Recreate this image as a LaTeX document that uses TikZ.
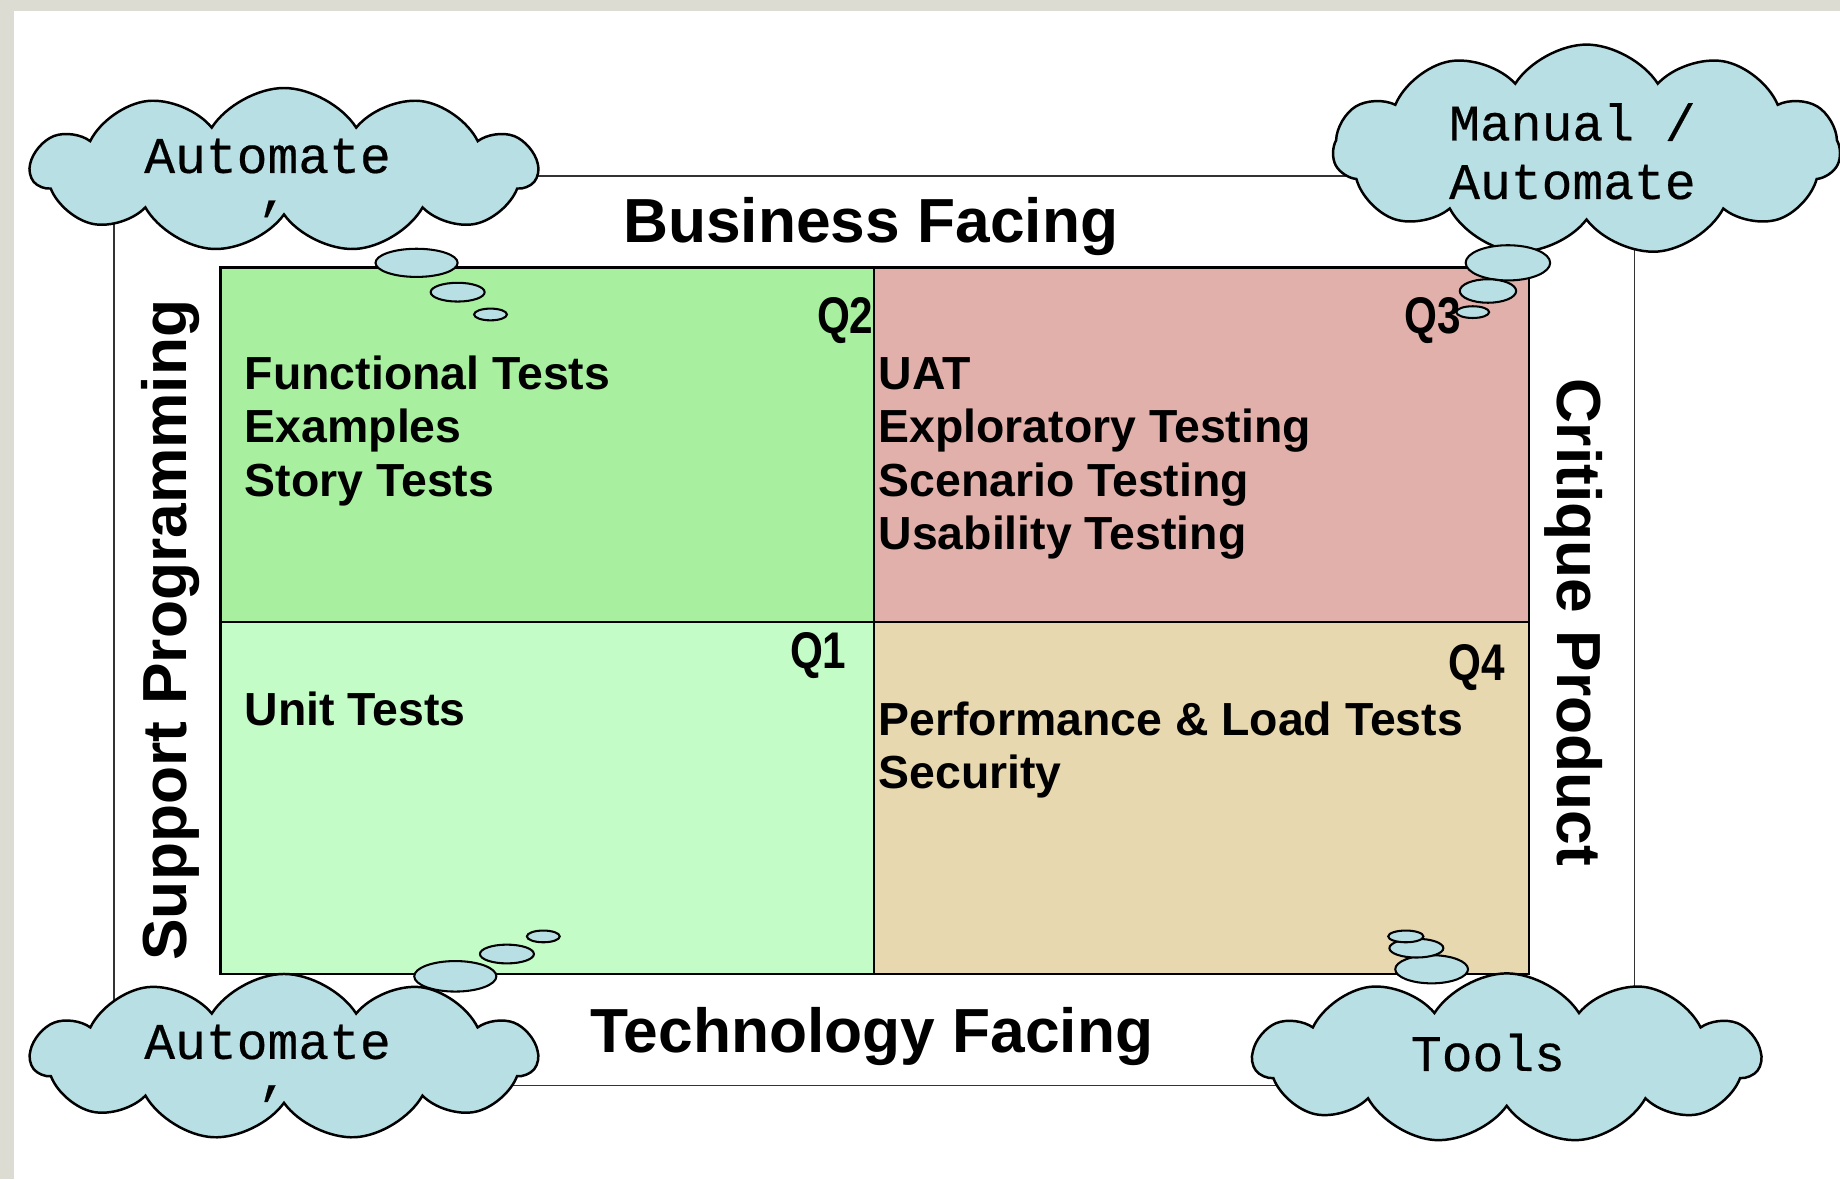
\documentclass[tikz,border=0pt]{standalone}
\usepackage{fontspec}
\setmainfont{Liberation Sans}
\newfontfamily\cloudfont[FakeBold=0.4]{Liberation Mono}
\usetikzlibrary{shapes.symbols}
\definecolor{bggrey}{RGB}{221,220,211}
\definecolor{cloudblue}{RGB}{184,223,227}
\definecolor{qonegreen}{RGB}{196,252,200}
\definecolor{qtwogreen}{RGB}{168,240,160}
\definecolor{qthreepink}{RGB}{226,176,170}
\definecolor{qfourtan}{RGB}{232,216,176}
\newcommand{\quadrant}[5]{\filldraw[fill=#5, draw=black, line width=0.6pt] (#1,#2) rectangle (#3,#4);}
\newcommand{\bubble}[4]{\filldraw[fill=cloudblue, draw=black, line width=0.5pt] (#1,#2) ellipse ({#3*0.05mm} and {#4*0.05mm});}

\begin{document}
\begin{tikzpicture}[x=0.1mm, y=-0.1mm,
    facing/.style={font=\bfseries\fontsize{15.1}{18}\selectfont, inner sep=0},
    testline/.style={font=\bfseries\fontsize{11.25}{13}\selectfont, inner sep=0, anchor=base west},
    qlabel/.style={font=\bfseries\fontsize{12.5}{14}\selectfont, inner sep=0, anchor=base east},
    thought/.style={cloud, cloud puffs=11, cloud puff arc=115, cloud ignores aspect, draw=black, line width=0.6pt, fill=cloudblue, inner sep=0},
    cloudtext/.style={font=\cloudfont\fontsize{12.45}{14.2}\selectfont, align=center, inner sep=0}]
    \useasboundingbox (0,0) rectangle (1568,1005);
    \fill[bggrey] (0,0) rectangle (1568,1005);
    \fill[white] (12,9) rectangle (1568,1005);
    \draw[black!80, line width=0.35pt] (97,150) rectangle (1393,925);

    \quadrant{188}{228}{745}{530}{qtwogreen}
    \quadrant{745}{228}{1303}{530}{qthreepink}
    \quadrant{188}{530}{745}{830}{qonegreen}
    \quadrant{745}{530}{1303}{830}{qfourtan}

    \node[facing, anchor=base] (business) at (742,207) {Business Facing};
    \node[facing, anchor=base] (technology) at (743,897) {Technology Facing};
    \node[facing, anchor=base, rotate=90] (support) at (159,537) {Support Programming};
    \node[facing, anchor=base, rotate=-90] (critique) at (1327,530) {Critique Product};

    \node[qlabel] (qtwo) at (745,284) {\scalebox{0.82}[1]{Q2}};
    \node[qlabel] (qthree) at (1246,284) {\scalebox{0.82}[1]{Q3}};
    \node[qlabel] (qone) at (722,570) {\scalebox{0.82}[1]{Q1}};
    \node[qlabel] (qfour) at (1283,580) {\scalebox{0.82}[1]{Q4}};

    \foreach \t [count=\i] in {Functional Tests, Examples, Story Tests}
        \node[testline] (qtwoline\i) at (208,{332+45.5*(\i-1)}) {\t};
    \foreach \t [count=\i] in {UAT, Exploratory Testing, Scenario Testing, Usability Testing}
        \node[testline] (qthreeline\i) at (748,{332+45.5*(\i-1)}) {\t};
    \node[testline] (qoneline1) at (208,618) {Unit Tests};
    \foreach \t [count=\i] in {Performance \& Load Tests, Security}
        \node[testline] (qfourline\i) at (748,{627+45*(\i-1)}) {\t};

    \node[thought, minimum width=43.1mm, minimum height=14mm] (automatetop) at (242,145) {};
    \node[thought, minimum width=43.2mm, minimum height=18mm] (manual) at (1352,128) {};
    \node[thought, minimum width=43.1mm, minimum height=14.2mm] (automatebottom) at (242,901) {};
    \node[thought, minimum width=43.2mm, minimum height=14.5mm] (tools) at (1284,902) {};

    \node[cloudtext] (automatetoptext) at (228,133) {Automate};
    \node[cloudtext] (automatetopmark) at (233,178) {,};
    \node[cloudtext] (manualtext) at (1340,129) {Manual /\\Automate};
    \node[cloudtext] (automatebottomtext) at (228,888) {Automate};
    \node[cloudtext] (automatebottommark) at (233,932) {,};
    \node[cloudtext] (toolstext) at (1268,897) {Tools};

    \bubble{355}{224}{70}{24}
    \bubble{390}{249}{46}{16}
    \bubble{418}{268}{28}{10}

    \bubble{1285}{224}{72}{30}
    \bubble{1268}{248}{48}{20}
    \bubble{1255}{266}{28}{10}

    \bubble{388}{832}{70}{26}
    \bubble{432}{813}{46}{16}
    \bubble{463}{798}{28}{10}

    \bubble{1220}{826}{62}{24}
    \bubble{1207}{808}{46}{16}
    \bubble{1198}{798}{30}{10}
\end{tikzpicture}
\end{document}
